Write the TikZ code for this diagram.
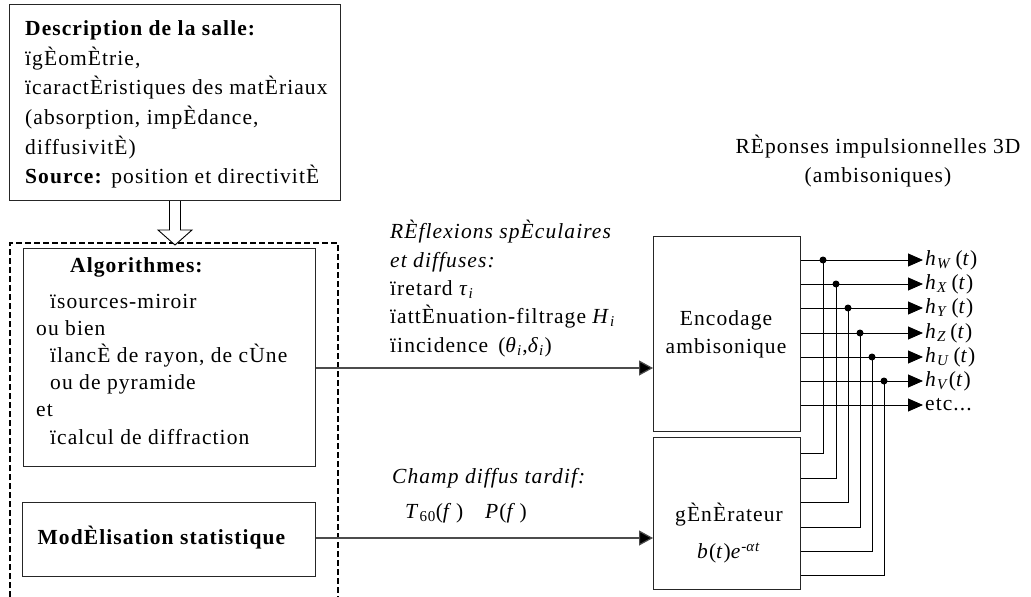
\documentclass[tikz,border=0pt]{standalone}
\usepackage{fontspec}
\setmainfont{Liberation Serif}[LetterSpace=5]
\usetikzlibrary{arrows.meta,calc}
\begin{document}
\begin{tikzpicture}[x=1pt,y=-1pt,
  box/.style={draw=black!85,line width=1pt,rectangle,inner sep=0pt,anchor=north west},
  txt/.style={inner sep=0pt,align=left,font=\fontsize{21.5}{28.5}\selectfont},
  wire/.style={line width=0.9pt},
  feed/.style={line width=1.2pt,draw=black!70,-{Triangle[length=14pt,width=15pt,fill=black]}},
  outarrow/.style={wire,-{Triangle[length=15pt,width=13pt]}},
  dot/.style={circle,fill=black,inner sep=0pt,minimum size=7pt},
  group/.style={line width=1.4pt,dash pattern=on 6pt off 3pt},
  lab/.style={inner sep=2pt,anchor=west,font=\fontsize{21.5}{24}\selectfont}
]
\useasboundingbox (0,0) rectangle (1031,597);

% room description
\node[box,minimum width=331pt,minimum height=196pt] (desc) at (9,4) {};
\node[txt,anchor=west,font=\fontsize{21.5}{29.7}\selectfont] (desctxt) at (25,104.5)
  {\textbf{Description de la salle:}\\ïgÈomÈtrie,\\ïcaractÈristiques des matÈriaux\\(absorption, impÈdance,\\diffusivitÈ)\\\textbf{Source:} position et directivitÈ};

% dashed frame around the simulation blocks
\draw[group] (10,597) -- (10,243) -- (338,243) -- (338,597);

% hollow arrow from the description to the simulation
\draw[line width=0.9pt,fill=white] ([xshift=-5.5pt]desc.south) -- ++(0,29) -- ++(-11.5,0)
  -- ++(17,15) -- ++(17,-15) -- ++(-11.5,0) -- ++(0,-29);

% algorithms
\node[box,minimum width=292pt,minimum height=218pt] (algo) at (23,248) {};
\node[txt,anchor=west] (algotitle) at (70,267) {\textbf{Algorithmes:}};
\node[txt,anchor=west,font=\fontsize{21.5}{27.2}\selectfont] (algotxt) at (36,369)
  {\hspace*{14pt}ïsources-miroir\\ou bien\\\hspace*{14pt}ïlancÈ de rayon, de cÙne\\\hspace*{14pt}ou de pyramide\\et\\\hspace*{14pt}ïcalcul de diffraction};

% statistical model
\node[box,minimum width=293pt,minimum height=74pt] (stat) at (22,502) {};
\node[txt] (stattxt) at (162,538) {\textbf{ModÈlisation statistique}};

% ambisonic encoder and generator
\node[box,minimum width=147pt,minimum height=195pt] (enc) at (653,236) {};
\node[txt,align=center,font=\fontsize{21.5}{28}\selectfont] (enctxt) at (726,334) {Encodage\\ambisonique};
\node[box,minimum width=147pt,minimum height=152pt] (gen) at (653,437) {};
\node[txt] (gentxt) at (729,515) {gÈnÈrateur};
\node[txt] (genexpr) at (729,553) {\textit{b}(\textit{t})\textit{e}\textsuperscript{-\textit{αt}}};

% labels of the two feeds
\node[txt,anchor=west,font=\fontsize{21.5}{28.3}\selectfont] (reflab) at (390,288.5)
  {\textit{RÈflexions spÈculaires}\\\textit{et diffuses:}\\ïretard \textit{τ}\textsubscript{\textit{i}}\\ïattÈnuation-filtrage \textit{H}\textsubscript{\textit{i}}\\ïincidence \,(\textit{θ}\textsubscript{\textit{i}},\textit{δ}\textsubscript{\textit{i}})};
\node[txt,anchor=west] (champlab) at (392,478) {\textit{Champ diffus tardif:}};
\node[txt,anchor=west] (paramlab) at (405,513) {\textit{T}\textsubscript{60}(\textit{f}\,)\hspace{22pt}\textit{P}(\textit{f}\,)};

% feeds
\coordinate (rA) at (0,368);
\coordinate (rB) at (0,538);
\draw[feed] (algo.east |- rA) -- (enc.west |- rA);
\draw[feed] (stat.east |- rB) -- (enc.west |- rB);

% title of the outputs
\node[txt,align=center] (title) at (878,161) {RÈponses impulsionnelles 3D\\(ambisoniques)};

% output channels
\node[lab] (hW) at (923,260) {\textit{h}\textsubscript{\textit{W}}\,(\textit{t})};
\node[lab] (hX) at (923,284) {\textit{h}\textsubscript{\textit{X}}\,(\textit{t})};
\node[lab] (hY) at (923,308) {\textit{h}\textsubscript{\textit{Y}}\,(\textit{t})};
\node[lab] (hZ) at (923,333) {\textit{h}\textsubscript{\textit{Z}}\,(\textit{t})};
\node[lab] (hU) at (923,357) {\textit{h}\textsubscript{\textit{U}}\,(\textit{t})};
\node[lab] (hV) at (923,381) {\textit{h}\textsubscript{\textit{V}}(\textit{t})};
\node[lab] (etc) at (923,405) {etc...};
\foreach \n in {hW,hX,hY,hZ,hU,hV,etc}
  \draw[outarrow] (enc.east |- \n.west) -- (\n.west);

% generator outputs joined onto the channels
\coordinate (gW) at (0,453);
\coordinate (gX) at (0,478);
\coordinate (gY) at (0,502);
\coordinate (gZ) at (0,527);
\coordinate (gU) at (0,551);
\coordinate (gV) at (0,575);
\node[dot] (dW) at (823,260) {};
\node[dot] (dX) at (836,284) {};
\node[dot] (dY) at (848,308) {};
\node[dot] (dZ) at (860,333) {};
\node[dot] (dU) at (872,357) {};
\node[dot] (dV) at (884,381) {};
\foreach \c in {W,X,Y,Z,U,V}
  \draw[wire] (d\c.center) |- (gen.east |- g\c);
\end{tikzpicture}
\end{document}
